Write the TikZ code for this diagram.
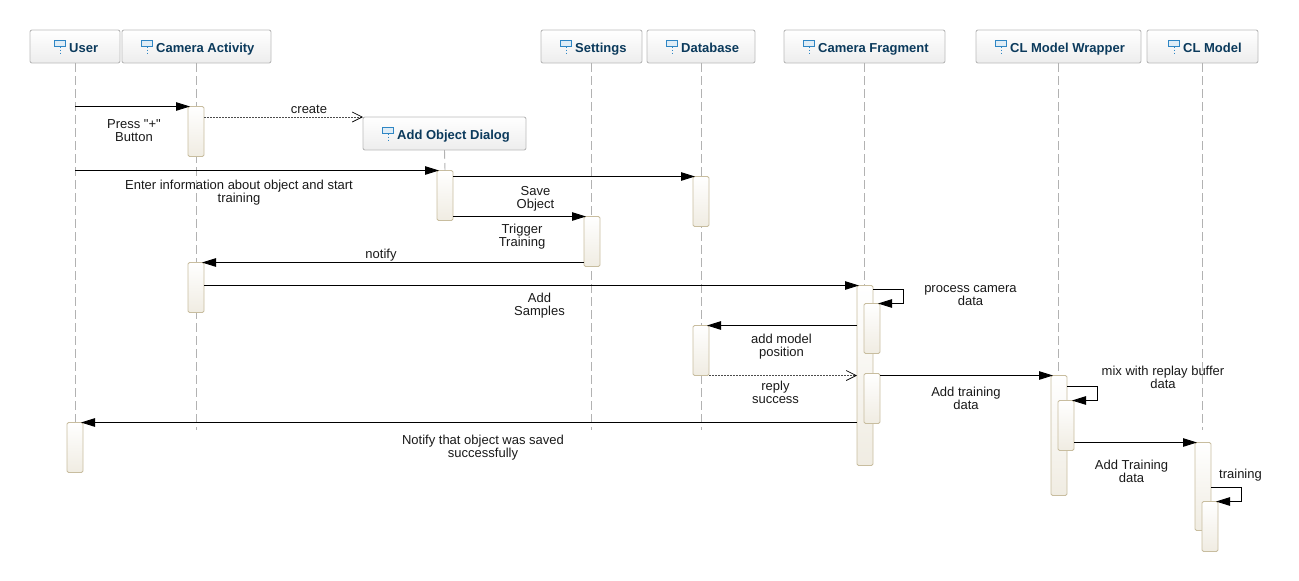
\documentclass[tikz,border=0pt]{standalone}
\usepackage{fontspec}
\setmainfont{Liberation Sans}[Ligatures=TeXOff]
\usetikzlibrary{arrows.meta}
\definecolor{headtxt}{HTML}{0B3A5C}
\definecolor{iconblue}{HTML}{2F86C4}
\definecolor{barline}{HTML}{C8BD9F}
\definecolor{barfill}{HTML}{F0ECE2}
\tikzset{
  headbox/.style={draw=black!27,rounded corners=2pt,top color=white,bottom color=black!7,inner sep=0pt,outer sep=0pt,line width=.9pt},
  headtext/.style={font=\fontsize{13}{13}\selectfont\bfseries,text=headtxt,inner sep=0pt,anchor=base west},
  iconbox/.style={draw=iconblue,fill=iconblue!15,inner sep=0pt,outer sep=0pt,minimum width=11pt,minimum height=6pt,line width=1pt,anchor=south east},
  iconstem/.style={draw=iconblue,dash pattern=on 1.5pt off 1.5pt,line width=1pt},
  lifeline/.style={draw=black!30,dash pattern=on 9pt off 4pt,line width=.9pt},
  actbar/.style={draw=barline,rounded corners=1.5pt,top color=white,bottom color=barfill,inner sep=0pt,outer sep=0pt,minimum width=16pt,anchor=north,line width=.9pt},
  msg/.style={draw=black,line width=.9pt,shorten >=-2pt,-{Triangle[length=14pt,width=8.5pt]}},
  reply/.style={draw=black!70,line width=.8pt,dash pattern=on 1.5pt off 1.5pt,-{Straight Barb[length=10pt,width=10pt,line width=.7pt,black]}},
  lbl/.style={align=center,inner sep=0pt,text=black!90,font=\fontsize{13}{13}\selectfont}
}
\begin{document}
\begin{tikzpicture}[x=1pt,y=-1pt]
  \useasboundingbox (0,0) rectangle (1299,581);

  % heads
  \foreach \h/\cx/\cy/\boxw/\tx/\txt in {
      user/75/46.5/90/69/User,
      activity/196.5/46.5/149/156/Camera Activity,
      settings/591.5/46.5/101/575/Settings,
      database/701/46.5/108/681/Database,
      fragment/864.5/46.5/161/818/Camera Fragment,
      wrapper/1058.5/46.5/165/1010/CL Model Wrapper,
      model/1202.5/46.5/111/1183/CL Model,
      dialog/444.5/133.5/163/397/Add Object Dialog} {
    \node[headbox,minimum width=\boxw,minimum height=33] (\h) at (\cx,\cy) {};
    \node[headtext] (\h T) at (\tx,\cy+5.5) {\txt};
    \node[iconbox] (\h I) at ([xshift=-3.5pt,yshift=5.5pt]\h T.base west) {};
    \draw[iconstem] (\h I.south) -- ++(0,6.5);
  }

  \coordinate (lifeEnd) at (0,430);
  \coordinate (userA) at (75,106.5);
  \coordinate (userB) at (75,170.5);

  % activations
  \begin{scope}[every node/.style={actbar}]
    \foreach \h in {user,activity,settings,database,fragment,wrapper,model}
      \draw[lifeline] (\h.south) -- (\h.south |- lifeEnd);
    \node[minimum height=50] (a1) at (196,106.5) {};
    \node[minimum height=50] (d1) at (445,170.5) {};
    \node[minimum height=50] (b1) at (701,176.5) {};
    \node[minimum height=50] (s1) at (592,216.5) {};
    \node[minimum height=50] (a2) at (196,262.5) {};
    \node[minimum height=180] (f1) at (865,285.5) {};
    \node[minimum height=50] (f2) at (872,303.5) {};
    \node[minimum height=50] (b2) at (701,325.5) {};
    \node[minimum height=50] (f3) at (872,373.5) {};
    \node[minimum height=120] (w1) at (1059,375.5) {};
    \node[minimum height=50] (w2) at (1066,400.5) {};
    \node[minimum height=50] (u1) at (75,422.5) {};
    \node[minimum height=88] (m1) at (1203,442.5) {};
    \node[minimum height=50] (m2) at (1210,501.5) {};
  \end{scope}
  \draw[lifeline] (dialog.south) -- (d1.north);

  % messages
  \draw[msg] (userA) -- (a1.north west);
  \draw[reply] (a1.east |- dialog.north) -- (dialog.north west);
  \draw[msg] (userB) -- (d1.north west);
  \draw[msg] (d1.east |- b1.north) -- (b1.north west);
  \draw[msg] (d1.east |- s1.north) -- (s1.north west);
  \draw[msg] (s1.west |- a2.north) -- (a2.north east);
  \draw[msg] (a2.east |- f1.north) -- (f1.north west);
  \draw[msg] ([yshift=-4pt]f1.north east) -- ++(30,0) |- (f2.north east);
  \draw[msg] (f1.west |- b2.north) -- (b2.north east);
  \draw[reply] (b2.south east) -- (b2.south east -| f1.west);
  \draw[msg] (f3.east |- w1.north) -- (w1.north west);
  \draw[msg] ([yshift=-11pt]w1.north east) -- ++(30,0) |- (w2.north east);
  \draw[msg] (f1.west |- u1.north) -- (u1.north east);
  \draw[msg] (w2.east |- m1.north) -- (m1.north west);
  \draw[msg] ([yshift=-45pt]m1.north east) -- ++(30,0) |- (m2.north east);

  % labels
  \begin{scope}[every node/.style={lbl}]
    \node (l1) at (134,130.5) {Press "+"\\Button};
    \node (l2) at (309,109) {create};
    \node (l3) at (239,193) {Enter information about object and start\\training};
    \node (l4) at (535.5,198.5) {Save\\Object};
    \node (l5) at (522,236.5) {Trigger\\Training};
    \node (l6) at (381,255) {notify};
    \node (l7) at (539.5,305.5) {Add\\Samples};
    \node (l8) at (970.5,295.5) {process camera\\data};
    \node (l9) at (781.5,346.5) {add model\\position};
    \node (l10) at (775.5,392.5) {reply\\success};
    \node (l11) at (966,398.5) {Add training\\data};
    \node (l12) at (1163,377.5) {mix with replay buffer\\data};
    \node (l13) at (483,448) {Notify that object was saved\\successfully};
    \node (l14) at (1131.5,471.5) {Add Training\\data};
    \node (l15) at (1240.5,475) {training};
  \end{scope}
\end{tikzpicture}
\end{document}
